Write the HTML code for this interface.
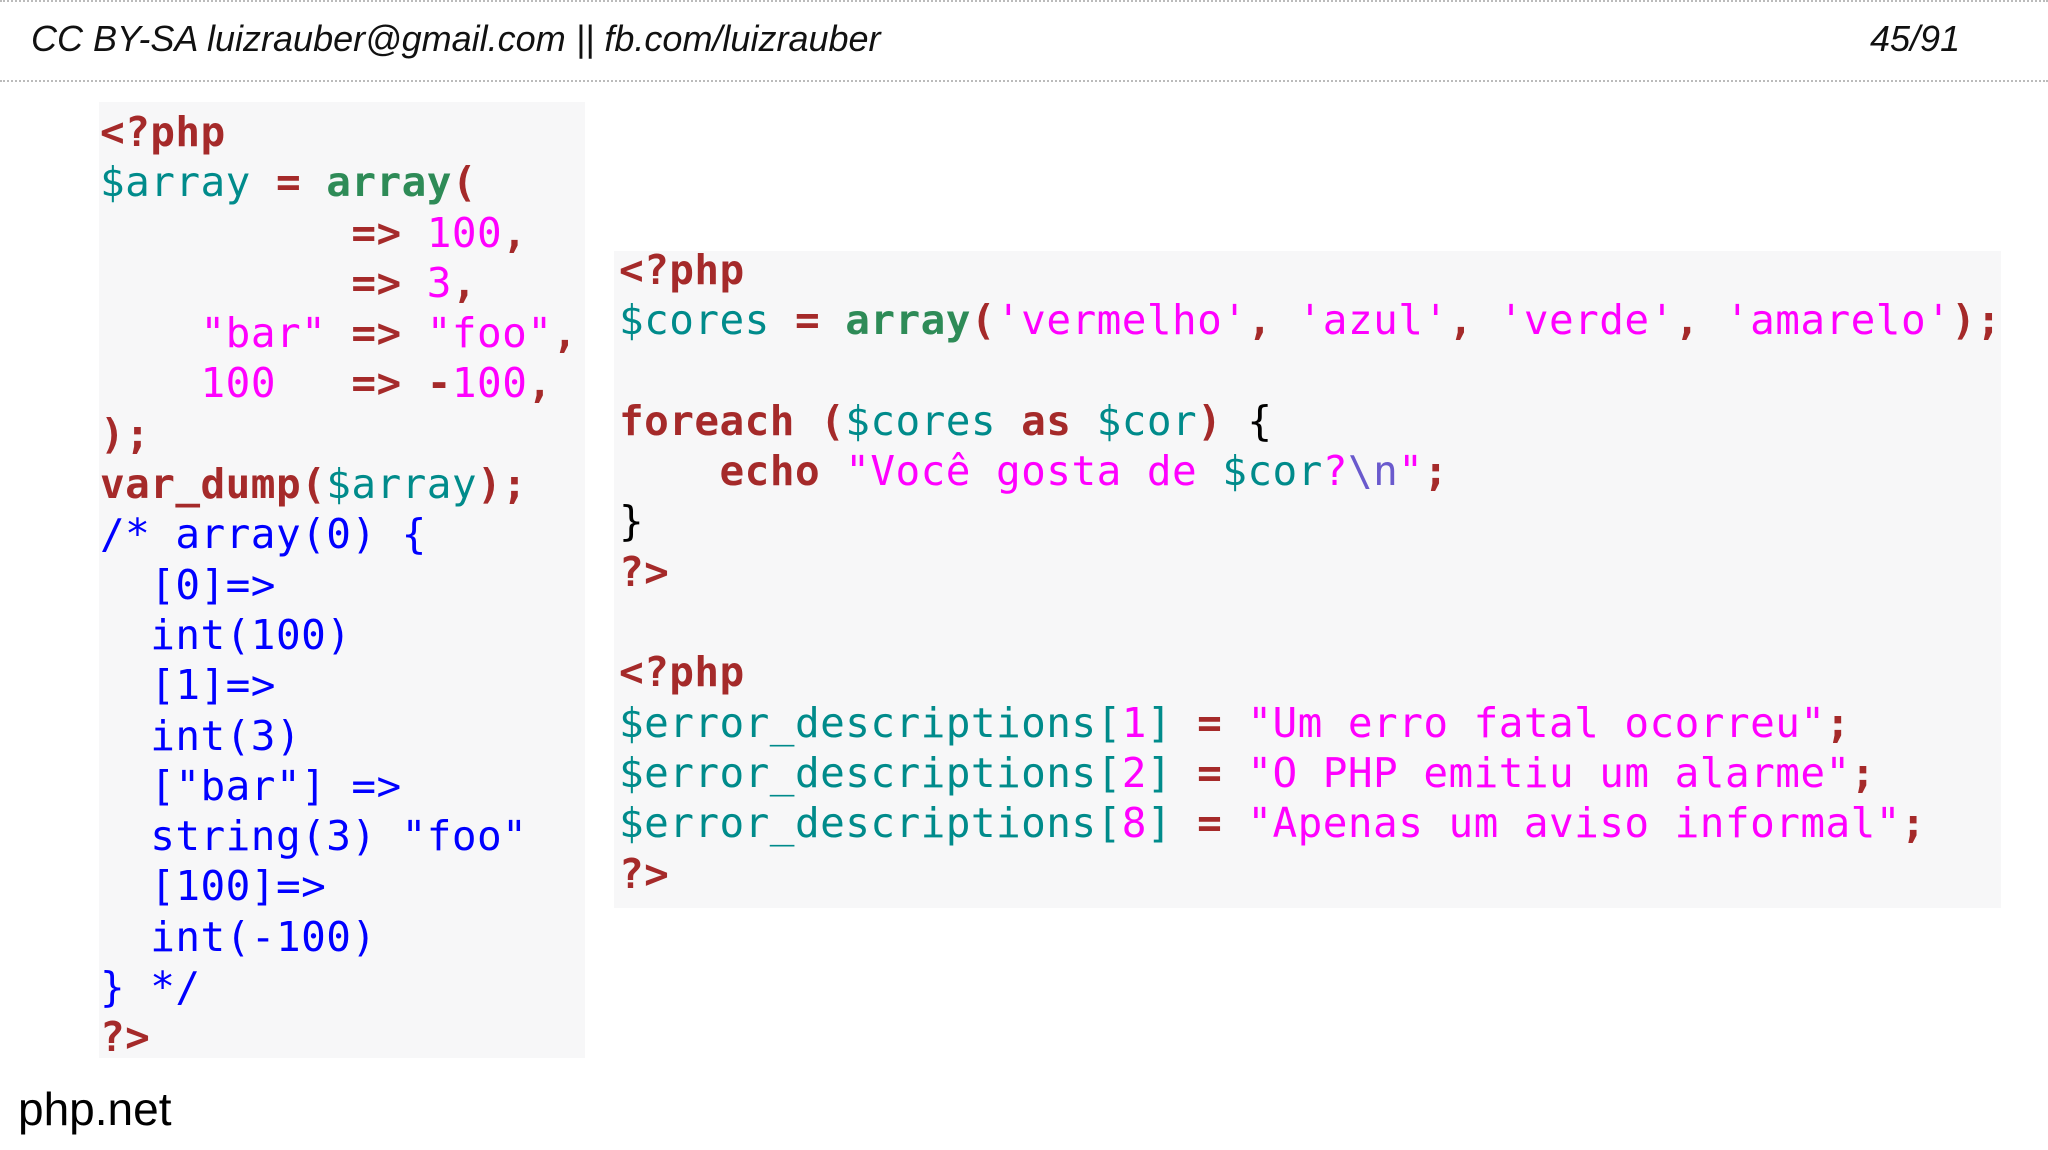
<!DOCTYPE html>
<html><head><meta charset="utf-8"><style>
html,body{margin:0;padding:0;width:2048px;height:1150px;background:#fff;overflow:hidden;position:relative}
.hdr{position:absolute;top:18px;left:31px;font:italic 36px "Liberation Sans",sans-serif;color:#111}
.pg{position:absolute;top:18px;left:1870px;font:italic 36px "Liberation Sans",sans-serif;color:#111}
.dots{position:absolute;left:0;width:2048px;height:0;border-top:2px dotted #bbb}
.box{position:absolute;background:#f7f7f8}
pre{position:absolute;margin:0;font:41px/50.3px "DejaVu Sans Mono",monospace;color:#000;letter-spacing:0.45px}
.k{color:#a52a2a;font-weight:bold}
.v{color:#008b8b}
.f{color:#2e8b57;font-weight:bold}
.s{color:#ff00ff}
.c{color:#0000ff}
.e{color:#6a5acd}
.net{position:absolute;left:18px;top:1082px;font:46px "Liberation Sans",sans-serif;color:#000}
</style></head><body>
<div class="dots" style="top:0"></div>
<div class="hdr">CC BY-SA luizrauber@gmail.com || fb.com/luizrauber</div>
<div class="pg">45/91</div>
<div class="dots" style="top:80px"></div>
<div class="box" style="left:99px;top:102px;width:486px;height:956px"></div>
<div class="box" style="left:614px;top:251px;width:1387px;height:657px"></div>
<pre style="left:100px;top:107px"><span class="k">&lt;?php</span>
<span class="v">$array</span> <span class="k">=</span> <span class="f">array</span><span class="k">(</span>
          <span class="k">=&gt;</span> <span class="s">100</span><span class="k">,</span>
          <span class="k">=&gt;</span> <span class="s">3</span><span class="k">,</span>
    <span class="s">"bar"</span> <span class="k">=&gt;</span> <span class="s">"foo"</span><span class="k">,</span>
    <span class="s">100</span>   <span class="k">=&gt;</span> <span class="k">-</span><span class="s">100</span><span class="k">,</span>
<span class="k">);</span>
<span class="k">var_dump(</span><span class="v">$array</span><span class="k">);</span>
<span class="c">/* array(0) {
  [0]=&gt;
  int(100)
  [1]=&gt;
  int(3)
  ["bar"] =&gt;
  string(3) "foo"
  [100]=&gt;
  int(-100)
} */</span>
<span class="k">?&gt;</span></pre>
<pre style="left:619px;top:245px"><span class="k">&lt;?php</span>
<span class="v">$cores</span> <span class="k">=</span> <span class="f">array</span><span class="k">(</span><span class="s">'vermelho'</span><span class="k">,</span> <span class="s">'azul'</span><span class="k">,</span> <span class="s">'verde'</span><span class="k">,</span> <span class="s">'amarelo'</span><span class="k">);</span>

<span class="k">foreach (</span><span class="v">$cores</span> <span class="k">as</span> <span class="v">$cor</span><span class="k">)</span> {
    <span class="k">echo</span> <span class="s">"Você gosta de </span><span class="v">$cor</span><span class="s">?</span><span class="e">\n</span><span class="s">"</span><span class="k">;</span>
}
<span class="k">?&gt;</span>

<span class="k">&lt;?php</span>
<span class="v">$error_descriptions[</span><span class="s">1</span><span class="v">]</span> <span class="k">=</span> <span class="s">"Um erro fatal ocorreu"</span><span class="k">;</span>
<span class="v">$error_descriptions[</span><span class="s">2</span><span class="v">]</span> <span class="k">=</span> <span class="s">"O PHP emitiu um alarme"</span><span class="k">;</span>
<span class="v">$error_descriptions[</span><span class="s">8</span><span class="v">]</span> <span class="k">=</span> <span class="s">"Apenas um aviso informal"</span><span class="k">;</span>
<span class="k">?&gt;</span></pre>
<div class="net">php.net</div>
</body></html>
